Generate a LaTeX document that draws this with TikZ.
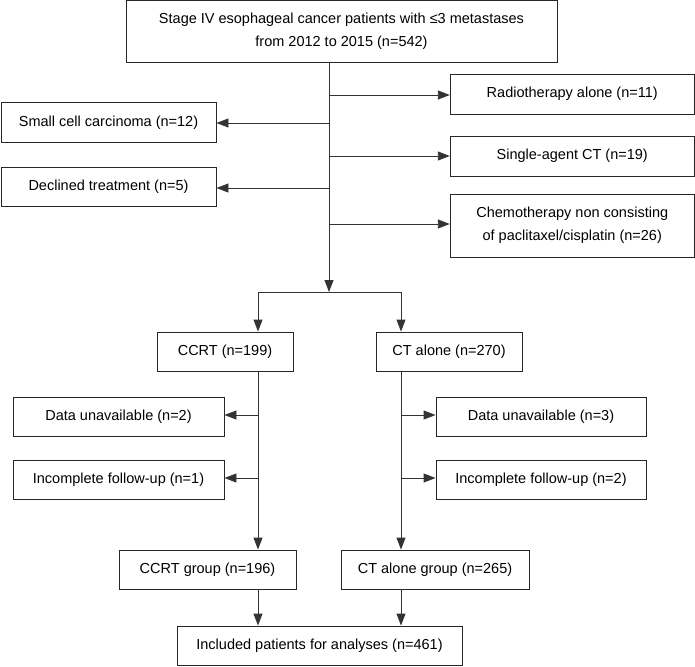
\documentclass[tikz,border=0pt]{standalone}
\usepackage{fontspec}
\setmainfont{Liberation Sans}
\usetikzlibrary{arrows.meta}
\begin{document}
\begin{tikzpicture}[x=1pt,y=-1pt,
  box/.style={draw=black!85, line width=0.9pt, rectangle, inner sep=0pt, align=center,
    font=\fontsize{14.5}{23}\selectfont},
  conn/.style={draw=black!80, line width=0.9pt},
  arr/.style={conn, -{Triangle[length=12pt,width=9pt]}}]
\useasboundingbox (0,0) rectangle (695,666);
% boxes
\node[box, minimum width=431pt, minimum height=62pt] (top) at (341.5,31) {Stage IV esophageal cancer patients with ≤3 metastases\\from 2012 to 2015 (n=542)};
\node[box, minimum width=244pt, minimum height=40pt] (rt) at (572.25,94) {Radiotherapy alone (n=11)};
\node[box, minimum width=215pt, minimum height=40pt] (sc) at (108.5,122.5) {Small cell carcinoma (n=12)};
\node[box, minimum width=244pt, minimum height=40pt] (sa) at (572.25,156) {Single-agent CT (n=19)};
\node[box, minimum width=215pt, minimum height=39pt] (dt) at (108.5,186.5) {Declined treatment (n=5)};
\node[box, minimum width=244pt, minimum height=63pt] (ch) at (572.25,225.5) {Chemotherapy non consisting\\of paclitaxel/cisplatin (n=26)};
\node[box, minimum width=136pt, minimum height=39pt] (ccrt) at (225,351.5) {CCRT (n=199)};
\node[box, minimum width=146pt, minimum height=39pt] (cta) at (449,351.5) {CT alone (n=270)};
\node[box, minimum width=211pt, minimum height=39pt] (dul) at (118.5,416.5) {Data unavailable (n=2)};
\node[box, minimum width=210pt, minimum height=39pt] (dur) at (541,416.5) {Data unavailable (n=3)};
\node[box, minimum width=211pt, minimum height=39pt] (ifl) at (118.5,479.5) {Incomplete follow-up (n=1)};
\node[box, minimum width=210pt, minimum height=39pt] (ifr) at (541,479.5) {Incomplete follow-up (n=2)};
\node[box, minimum width=177pt, minimum height=39pt] (ccrtg) at (207.5,569.5) {CCRT group (n=196)};
\node[box, minimum width=188pt, minimum height=39pt] (ctg) at (435,569.5) {CT alone group (n=265)};
\node[box, minimum width=285pt, minimum height=39pt] (inc) at (319.5,645.5) {Included patients for analyses (n=461)};
% coordinates
\coordinate (split) at (329,292);
\coordinate (mtop) at (split |- top.south);
\coordinate (sl) at (258,292);
\coordinate (sr) at (401,292);
\coordinate (yrt) at (0,95);
\coordinate (ysc) at (0,123);
\coordinate (ysa) at (0,156);
\coordinate (ydt) at (0,188);
\coordinate (ych) at (0,224);
\coordinate (ydu) at (0,415);
\coordinate (yif) at (0,478);
% connectors
\draw[arr] (mtop) -- (split);
\draw[arr] (mtop |- yrt) -- (rt.west |- yrt);
\draw[arr] (mtop |- ysc) -- (sc.east |- ysc);
\draw[arr] (mtop |- ysa) -- (sa.west |- ysa);
\draw[arr] (mtop |- ydt) -- (dt.east |- ydt);
\draw[arr] (mtop |- ych) -- (ch.west |- ych);
\draw[conn] (sl) -- (sr);
\draw[arr] (sl) -- (sl |- ccrt.north);
\draw[arr] (sr) -- (sr |- cta.north);
\draw[arr] (sl |- ccrt.south) -- (sl |- ccrtg.north);
\draw[arr] (sr |- cta.south) -- (sr |- ctg.north);
\draw[arr] (sl |- ydu) -- (dul.east |- ydu);
\draw[arr] (sl |- yif) -- (ifl.east |- yif);
\draw[arr] (sr |- ydu) -- (dur.west |- ydu);
\draw[arr] (sr |- yif) -- (ifr.west |- yif);
\draw[arr] (sl |- ccrtg.south) -- (sl |- inc.north);
\draw[arr] (sr |- ctg.south) -- (sr |- inc.north);
\end{tikzpicture}
\end{document}
